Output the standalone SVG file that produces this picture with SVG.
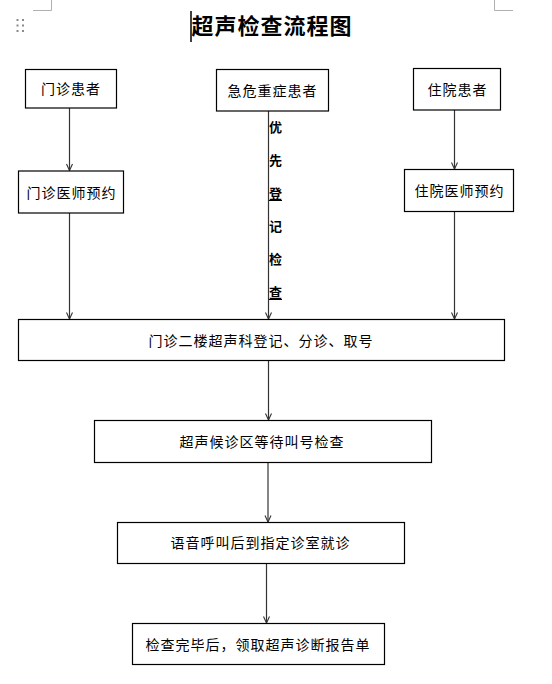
<svg xmlns="http://www.w3.org/2000/svg" width="552" height="684" viewBox="0 0 552 684">
<defs>
<style>
.box{fill:#fff;stroke:#000;stroke-width:1.2}
.t{font-family:"Liberation Sans","Noto Sans CJK SC",sans-serif;font-size:14px;fill:#000;text-anchor:middle;dominant-baseline:central;letter-spacing:1px}
.v{font-family:"Liberation Sans","Noto Sans CJK SC",sans-serif;font-size:13px;font-weight:bold;fill:#000;text-anchor:middle;dominant-baseline:central}
.ln{stroke:#333;stroke-width:1.2;fill:none;marker-end:url(#ah)}
.mark{stroke:#b0b0b0;stroke-width:1;fill:none}
</style>
<marker id="ah" viewBox="0 0 8 8" refX="8" refY="4" markerWidth="8" markerHeight="8" markerUnits="userSpaceOnUse" orient="auto">
<polyline points="1.5,1 8,4 1.5,7" fill="none" stroke="#333" stroke-width="1.1"/>
</marker>
</defs>
<rect width="552" height="684" fill="#fff"/>
<g id="page-marks">
<polyline class="mark" points="33,10.5 51.5,10.5 51.5,0"/>
<polyline class="mark" points="494.5,0 494.5,10.5 513,10.5"/>
<g fill="#8a8a8a">
<rect x="16.5" y="19" width="2" height="2"/><rect x="22" y="19" width="2" height="2"/>
<rect x="16.5" y="24.5" width="2" height="2"/><rect x="22" y="24.5" width="2" height="2"/>
<rect x="16.5" y="30" width="2" height="2"/><rect x="22" y="30" width="2" height="2"/>
</g>
<line x1="191" y1="11" x2="191" y2="42" stroke="#000" stroke-width="1.5"/>
</g>
<g id="title">
<text x="272" y="26.5" font-family="'Liberation Serif','Noto Sans CJK SC',serif" font-size="22" font-weight="bold" text-anchor="middle" dominant-baseline="central" letter-spacing="1">超声检查流程图</text>
</g>
<g id="connectors">
<line class="ln" x1="69.5" y1="108" x2="69.5" y2="170.5"/>
<line class="ln" x1="69.5" y1="213" x2="69.5" y2="319"/>
<line class="ln" x1="268.5" y1="111" x2="268.5" y2="319"/>
<line class="ln" x1="454.5" y1="110" x2="454.5" y2="169"/>
<line class="ln" x1="454.5" y1="211.5" x2="454.5" y2="319"/>
<line class="ln" x1="268.5" y1="360.5" x2="268.5" y2="420"/>
<line class="ln" x1="268" y1="463" x2="268" y2="522"/>
<line class="ln" x1="266.5" y1="564" x2="266.5" y2="623"/>
</g>
<g id="label-priority">
<text class="v" x="275.5" y="127">优</text>
<text class="v" x="275.5" y="160">先</text>
<text class="v" x="275.5" y="193">登</text>
<text class="v" x="275.5" y="226">记</text>
<text class="v" x="275.5" y="259">检</text>
<text class="v" x="275.5" y="292">查</text>
<line x1="269" y1="200.5" x2="282" y2="200.5" stroke="#000" stroke-width="1"/>
<line x1="269" y1="299.5" x2="282" y2="299.5" stroke="#000" stroke-width="1"/>
</g>
<g id="n-outpatient">
<rect class="box" x="25.5" y="69.5" width="91" height="38.5"/>
<text class="t" x="71" y="89">门诊患者</text>
</g>
<g id="n-emergency">
<rect class="box" x="216.5" y="69.5" width="112" height="41.5"/>
<text class="t" x="272.5" y="90.5">急危重症患者</text>
</g>
<g id="n-inpatient">
<rect class="box" x="413.5" y="68.5" width="87" height="41.5"/>
<text class="t" x="457.5" y="89.5">住院患者</text>
</g>
<g id="n-outpatient-doctor">
<rect class="box" x="18.5" y="171" width="105" height="42"/>
<text class="t" x="71.5" y="192.5">门诊医师预约</text>
</g>
<g id="n-inpatient-doctor">
<rect class="box" x="404.5" y="169.5" width="109" height="42"/>
<text class="t" x="459.5" y="191">住院医师预约</text>
</g>
<g id="n-register">
<rect class="box" x="18.5" y="319.5" width="486" height="41"/>
<text class="t" x="261" y="340.5">门诊二楼超声科登记、分诊、取号</text>
</g>
<g id="n-wait">
<rect class="box" x="94.5" y="420.5" width="337" height="42"/>
<text class="t" x="262" y="441.5">超声候诊区等待叫号检查</text>
</g>
<g id="n-call">
<rect class="box" x="117.5" y="522.5" width="287" height="41"/>
<text class="t" x="260.5" y="543">语音呼叫后到指定诊室就诊</text>
</g>
<g id="n-report">
<rect class="box" x="132.5" y="623.5" width="252" height="41"/>
<text class="t" x="258" y="645">检查完毕后，领取超声诊断报告单</text>
</g>
</svg>
